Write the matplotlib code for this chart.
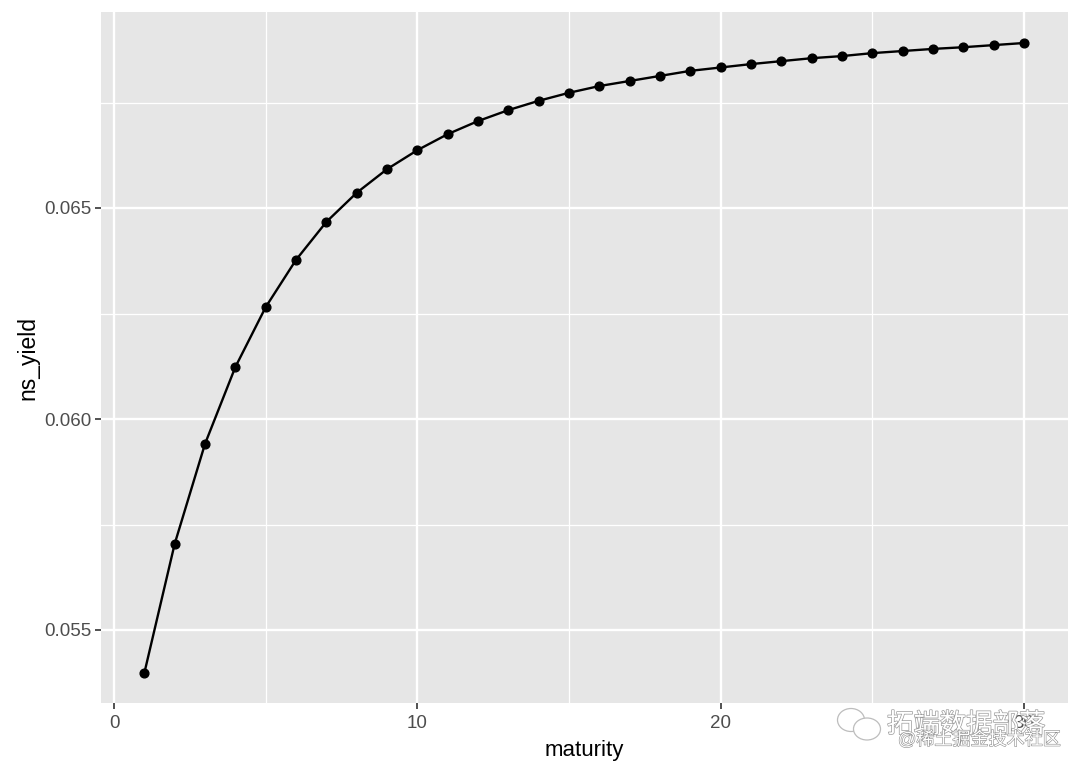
import matplotlib
matplotlib.use("Agg")
import matplotlib.pyplot as plt
import matplotlib.patheffects as pe
from matplotlib.patches import Ellipse

plt.rcParams['font.family'] = ['Liberation Sans', 'Noto Sans CJK SC', 'DejaVu Sans']

maturity = list(range(1, 31))
ns_yield = [0.05398, 0.05704, 0.05941, 0.06123, 0.06265, 0.06377, 0.06467, 0.06536,
            0.06592, 0.06637, 0.06675, 0.06706, 0.06732, 0.06754, 0.06773, 0.06789,
            0.06801, 0.06813, 0.06825, 0.06833, 0.06841, 0.06848, 0.06855, 0.06860,
            0.06867, 0.06872, 0.06877, 0.06881, 0.06886, 0.06891]
x_major = [0, 10, 20, 30]
x_minor = [5, 15, 25]
y_major = [0.055, 0.060, 0.065]
y_minor = [0.0575, 0.0625, 0.0675]
y_labels = ['0.055', '0.060', '0.065']

W, H = 1080, 771
fig = plt.figure(figsize=(W/100, H/100), dpi=100)
ax = fig.add_axes([101/W, 1-703/H, (1068-101)/W, (703-12)/H])
ax.set_facecolor('#E6E6E6')
for s in ax.spines.values():
    s.set_visible(False)

ax.set_xticks(x_major)
ax.set_xticks(x_minor, minor=True)
ax.set_yticks(y_major, y_labels)
ax.set_yticks(y_minor, minor=True)

# x: 0 -> 114px, 30 -> 1024px; y: 0.055 -> 630px, 0.065 -> 208px
ax.set_xlim((101-114)/(910/30), (1068-114)/(910/30))
ax.set_ylim(0.055-(703-630)/42200, 0.055+(630-12)/42200)

ax.grid(True, which='major', color='white', linewidth=1.7, zorder=1)
ax.grid(True, which='minor', color='white', linewidth=0.9, zorder=1)
ax.set_axisbelow(True)
ax.tick_params(which='major', length=4, width=1.2, color='#333333', labelcolor='#4D4D4D', labelsize=13.5, pad=3)
ax.tick_params(axis='x', which='major', pad=4.5)
ax.tick_params(which='minor', length=0)

ax.plot(maturity, ns_yield, color='black', linewidth=1.7, marker='o', markersize=6.3, zorder=3)
ax.set_xlabel('maturity', fontsize=16, labelpad=6)
ax.set_ylabel('ns_yield', fontsize=16.5, labelpad=3)

halo = [pe.withStroke(linewidth=1.0, foreground='#9A9A9A')]
fig.text(887/W, 1-725/H, '拓端数据部落', fontsize=19, color='white', va='center', ha='left',
         path_effects=halo, zorder=10)
fig.text(898/W, 1-740/H, '@稀土掘金技术社区', fontsize=13, color='white', va='center', ha='left',
         path_effects=[pe.withStroke(linewidth=0.8, foreground='#8C8C8C')], zorder=11)

# WeChat-style icon beside the watermark
for cx, cy, w, h in [(851, 720, 27, 23), (867, 729, 27, 22)]:
    fig.add_artist(Ellipse((cx/W, 1-cy/H), w/W, h/H, transform=fig.transFigure,
                           facecolor='white', edgecolor='#BDBDBD', linewidth=0.9, zorder=9))

fig.savefig('out.png', dpi=100)
